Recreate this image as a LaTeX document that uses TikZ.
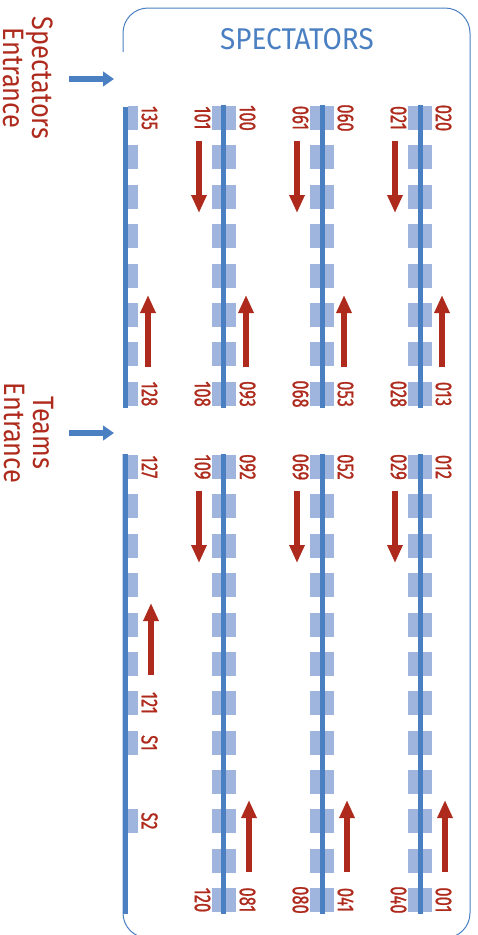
\documentclass[tikz,border=0pt]{standalone}
\usepackage{fontspec}
\usetikzlibrary{arrows.meta}
\setmainfont{Fira Sans}
\newfontfamily\numfont[FakeStretch=0.72,FakeBold=0.9]{Fira Sans}
\newfontfamily\headfont[FakeStretch=0.86]{Fira Sans}
\newfontfamily\titlefont[FakeStretch=0.93]{Fira Sans}
\definecolor{railblue}{HTML}{4A7FC1}
\definecolor{blockblue}{HTML}{A0B5DE}
\definecolor{labelred}{HTML}{AE2A1C}
\tikzset{
  wide/.style={rectangle, fill=blockblue, inner sep=0pt, minimum width=24pt, minimum height=24pt},
  half/.style={rectangle, fill=blockblue, inner sep=0pt, minimum width=10pt, minimum height=24pt},
  num/.style={labelred, inner sep=0pt, xshift=1.5pt, rotate=-90, font=\numfont\fontsize{23}{23}\selectfont},
  rail/.style={railblue, line width=5pt},
  flow/.style={labelred, line width=5.5pt, -{Triangle[length=18pt,width=14.5pt]}},
  enter/.style={railblue, line width=5.5pt, -{Triangle[length=11pt,width=14.5pt]}},
  side/.style={labelred, inner sep=0pt, rotate=-90, align=center, font=\headfont\fontsize{29.5}{29}\selectfont}
}
\begin{document}
\begin{tikzpicture}[x=1pt, y=-1pt]
\useasboundingbox (0,0) rectangle (477,935);
\draw[railblue, line width=1pt, rounded corners=25pt] (123,52) -- (123,8) -- (470,8) -- (470,938) -- (123,938) -- (123,454);
\node[railblue, inner sep=0pt, font=\titlefont\fontsize{30}{30}\selectfont] (title) at (297,39.5) {SPECTATORS};
\node[side] (specin) at (28.5,78) {Spectators\\Entrance};
\node[side] (teamin) at (28.5,433) {Teams\\Entrance};
% left column
\node[half] (a1) at (133,118){};
\node[half] (a2) at (133,157){};
\node[half] (a3) at (133,197){};
\node[half] (a4) at (133,236){};
\node[half] (a5) at (133,276){};
\node[half] (a6) at (133,315){};
\node[half] (a7) at (133,354){};
\node[half] (a8) at (133,394){};
\node[half] (a9) at (133,467){};
\node[half] (a10) at (133,506){};
\node[half] (a11) at (133,546){};
\node[half] (a12) at (133,585){};
\node[half] (a13) at (133,625){};
\node[half] (a14) at (133,664){};
\node[half] (a15) at (133,703){};
\node[half] (a16) at (133,743){};
\node[half] (a18) at (133,821){};
% second column
\node[wide] (b1) at (224,118){};
\node[wide] (b2) at (224,157){};
\node[wide] (b3) at (224,197){};
\node[wide] (b4) at (224,236){};
\node[wide] (b5) at (224,276){};
\node[wide] (b6) at (224,315){};
\node[wide] (b7) at (224,354){};
\node[wide] (b8) at (224,394){};
\node[wide] (b9) at (224,467){};
\node[wide] (b10) at (224,506){};
\node[wide] (b11) at (224,546){};
\node[wide] (b12) at (224,585){};
\node[wide] (b13) at (224,625){};
\node[wide] (b14) at (224,664){};
\node[wide] (b15) at (224,703){};
\node[wide] (b16) at (224,743){};
\node[wide] (b17) at (224,782){};
\node[wide] (b18) at (224,821){};
\node[wide] (b19) at (224,861){};
\node[wide] (b20) at (224,900){};
% third column
\node[wide] (c1) at (322,118){};
\node[wide] (c2) at (322,157){};
\node[wide] (c3) at (322,197){};
\node[wide] (c4) at (322,236){};
\node[wide] (c5) at (322,276){};
\node[wide] (c6) at (322,315){};
\node[wide] (c7) at (322,354){};
\node[wide] (c8) at (322,394){};
\node[wide] (c9) at (322,467){};
\node[wide] (c10) at (322,506){};
\node[wide] (c11) at (322,546){};
\node[wide] (c12) at (322,585){};
\node[wide] (c13) at (322,625){};
\node[wide] (c14) at (322,664){};
\node[wide] (c15) at (322,703){};
\node[wide] (c16) at (322,743){};
\node[wide] (c17) at (322,782){};
\node[wide] (c18) at (322,821){};
\node[wide] (c19) at (322,861){};
\node[wide] (c20) at (322,900){};
% fourth column
\node[wide] (d1) at (420,118){};
\node[wide] (d2) at (420,157){};
\node[wide] (d3) at (420,197){};
\node[wide] (d4) at (420,236){};
\node[wide] (d5) at (420,276){};
\node[wide] (d6) at (420,315){};
\node[wide] (d7) at (420,354){};
\node[wide] (d8) at (420,394){};
\node[wide] (d9) at (420,467){};
\node[wide] (d10) at (420,506){};
\node[wide] (d11) at (420,546){};
\node[wide] (d12) at (420,585){};
\node[wide] (d13) at (420,625){};
\node[wide] (d14) at (420,664){};
\node[wide] (d15) at (420,703){};
\node[wide] (d16) at (420,743){};
\node[wide] (d17) at (420,782){};
\node[wide] (d18) at (420,821){};
\node[wide] (d19) at (420,861){};
\node[wide] (d20) at (420,900){};
% rails
\coordinate (ra1) at (125.5,107);
\coordinate (ra2) at (125.5,408);
\coordinate (ra3) at (125.5,454);
\coordinate (ra4) at (125.5,914);
\coordinate (rb1) at (223.5,105);
\coordinate (rb2) at (223.5,408);
\coordinate (rb3) at (223.5,454);
\coordinate (rb4) at (223.5,914);
\coordinate (rc1) at (322.5,105);
\coordinate (rc2) at (322.5,408);
\coordinate (rc3) at (322.5,454);
\coordinate (rc4) at (322.5,914);
\coordinate (rd1) at (420.5,105);
\coordinate (rd2) at (420.5,408);
\coordinate (rd3) at (420.5,454);
\coordinate (rd4) at (420.5,914);
\draw[rail] (ra1) -- (ra2);
\draw[rail] (ra3) -- (ra4);
\draw[rail] (rb1) -- (rb2);
\draw[rail] (rb3) -- (rb4);
\draw[rail] (rc1) -- (rc2);
\draw[rail] (rc3) -- (rc4);
\draw[rail] (rd1) -- (rd2);
\draw[rail] (rd3) -- (rd4);
% entrance arrows
\coordinate (ent1s) at (69,79);
\coordinate (ent1e) at (114,79);
\coordinate (ent2s) at (69,433);
\coordinate (ent2e) at (114,433);
\draw[enter] (ent1s) -- (ent1e);
\draw[enter] (ent2s) -- (ent2e);
% flow arrows, downwards
\coordinate (dn1s) at (199,141);
\coordinate (dn1e) at (199,213);
\coordinate (dn2s) at (297,141);
\coordinate (dn2e) at (297,213);
\coordinate (dn3s) at (395,141);
\coordinate (dn3e) at (395,213);
\coordinate (dn4s) at (199,491);
\coordinate (dn4e) at (199,563);
\coordinate (dn5s) at (297,491);
\coordinate (dn5e) at (297,563);
\coordinate (dn6s) at (395,491);
\coordinate (dn6e) at (395,563);
\draw[flow] (dn1s) -- (dn1e);
\draw[flow] (dn2s) -- (dn2e);
\draw[flow] (dn3s) -- (dn3e);
\draw[flow] (dn4s) -- (dn4e);
\draw[flow] (dn5s) -- (dn5e);
\draw[flow] (dn6s) -- (dn6e);
% flow arrows, upwards
\coordinate (up1s) at (148,367);
\coordinate (up1e) at (148,295);
\coordinate (up2s) at (246,367);
\coordinate (up2e) at (246,295);
\coordinate (up3s) at (344,367);
\coordinate (up3e) at (344,295);
\coordinate (up4s) at (442,367);
\coordinate (up4e) at (442,295);
\coordinate (up5s) at (151,675);
\coordinate (up5e) at (151,603);
\coordinate (up6s) at (249,872);
\coordinate (up6e) at (249,800);
\coordinate (up7s) at (347,872);
\coordinate (up7e) at (347,800);
\coordinate (up8s) at (445,872);
\coordinate (up8e) at (445,800);
\draw[flow] (up1s) -- (up1e);
\draw[flow] (up2s) -- (up2e);
\draw[flow] (up3s) -- (up3e);
\draw[flow] (up4s) -- (up4e);
\draw[flow] (up5s) -- (up5e);
\draw[flow] (up6s) -- (up6e);
\draw[flow] (up7s) -- (up7e);
\draw[flow] (up8s) -- (up8e);
% seat numbers
\node[num] (n135) at (148,118) {135};
\node[num] (n101) at (201,118) {101};
\node[num] (n100) at (246,118) {100};
\node[num] (n061) at (299,118) {061};
\node[num] (n060) at (344,118) {060};
\node[num] (n021) at (397,118) {021};
\node[num] (n020) at (442,118) {020};
\node[num] (n128) at (148,394) {128};
\node[num] (n108) at (201,394) {108};
\node[num] (n093) at (246,394) {093};
\node[num] (n068) at (299,394) {068};
\node[num] (n053) at (344,394) {053};
\node[num] (n028) at (397,394) {028};
\node[num] (n013) at (442,394) {013};
\node[num] (n127) at (148,467) {127};
\node[num] (n109) at (201,467) {109};
\node[num] (n092) at (246,467) {092};
\node[num] (n069) at (299,467) {069};
\node[num] (n052) at (344,467) {052};
\node[num] (n029) at (397,467) {029};
\node[num] (n012) at (442,467) {012};
\node[num] (n121) at (148,703) {121};
\node[num] (ns1) at (148,743) {S1};
\node[num] (ns2) at (148,821) {S2};
\node[num] (n120) at (201,900) {120};
\node[num] (n081) at (246,900) {081};
\node[num] (n080) at (299,900) {080};
\node[num] (n041) at (344,900) {041};
\node[num] (n040) at (397,900) {040};
\node[num] (n001) at (442,900) {001};
\end{tikzpicture}
\end{document}
